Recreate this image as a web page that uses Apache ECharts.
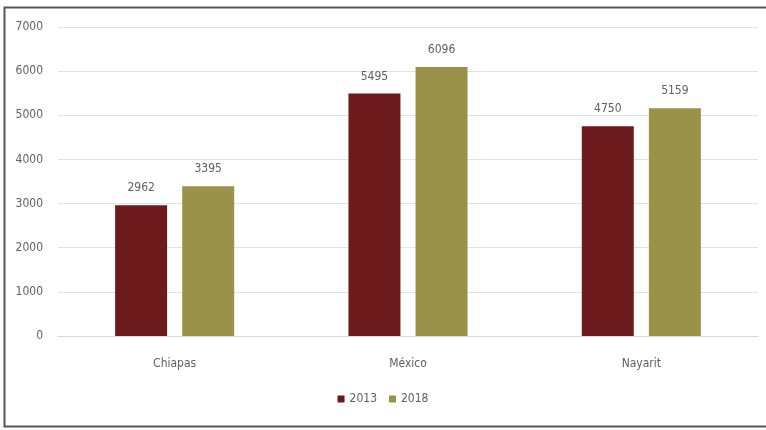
<!DOCTYPE html>
<html>
<head>
<meta charset="utf-8">
<script src="https://cdn.jsdelivr.net/npm/echarts@6/dist/echarts.min.js"></script>
<style>
  html, body { margin: 0; padding: 0; background: #ffffff; }
  #chart { width: 766px; height: 430px; }
</style>
</head>
<body>
<div id="chart"></div>
<script>
// States compared in the chart
const categories = ['Chiapas', 'México', 'Nayarit'];
// Series names and values per state
const seriesNames = ['2013', '2018'];
const values2013 = [2962, 5495, 4750];
const values2018 = [3395, 6096, 5159];
// Value axis ticks
const yTicks = [0, 1000, 2000, 3000, 4000, 5000, 6000, 7000];

const colors = ['#6d1a1c', '#9b9249'];
const textColor = '#606060';
const font = 'Liberation Sans Narrow, DejaVu Sans Condensed, Liberation Sans, sans-serif';

const chart = echarts.init(document.getElementById('chart'), null, { renderer: 'canvas' });

const barLabel = {
  show: true,
  position: 'top',
  distance: 11,
  color: textColor,
  fontFamily: font,
  fontSize: 12
};

chart.setOption({
  animation: false,
  backgroundColor: '#ffffff',
  graphic: [{
    type: 'rect',
    shape: { x: 4.5, y: 7.5, width: 800, height: 419 },
    style: { fill: 'none', stroke: '#555555', lineWidth: 2 },
    silent: true,
    z: -1
  }],
  grid: { left: 58, right: 8, top: 27, bottom: 94 },
  legend: {
    bottom: 20,
    left: 'center',
    itemWidth: 7,
    itemHeight: 7,
    itemGap: 12,
    icon: 'rect',
    textStyle: { color: textColor, fontFamily: font, fontSize: 12 },
    data: seriesNames
  },
  xAxis: {
    type: 'category',
    data: categories,
    axisLine: { show: true, lineStyle: { color: '#d9d9d9' } },
    axisTick: { show: false },
    axisLabel: { color: textColor, fontFamily: font, fontSize: 12, margin: 22 }
  },
  yAxis: {
    type: 'value',
    min: yTicks[0],
    max: yTicks[yTicks.length - 1],
    interval: 1000,
    axisLine: { show: false },
    axisTick: { show: false },
    splitLine: { lineStyle: { color: '#e3e3e3' } },
    axisLabel: {
      color: textColor, fontFamily: font, fontSize: 12, margin: 15,
      formatter: (v) => String(v)
    }
  },
  series: [
    {
      name: seriesNames[0],
      type: 'bar',
      data: values2013,
      barWidth: 52,
      barGap: '29%',
      itemStyle: { color: colors[0] },
      label: barLabel
    },
    {
      name: seriesNames[1],
      type: 'bar',
      data: values2018,
      barWidth: 52,
      barGap: '29%',
      itemStyle: { color: colors[1] },
      label: barLabel
    }
  ]
});
</script>
</body>
</html>
